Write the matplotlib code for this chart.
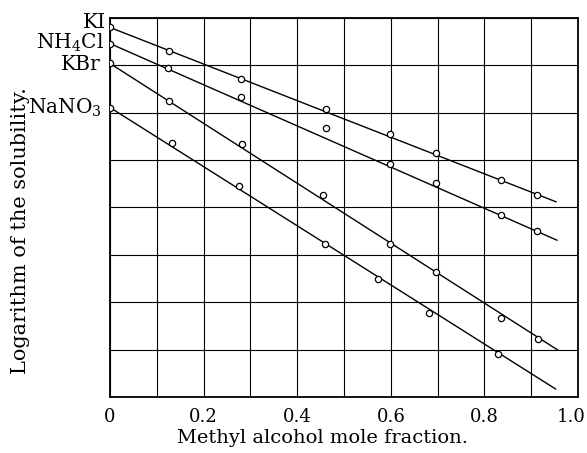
import numpy as np
import matplotlib
matplotlib.use("Agg")
import matplotlib.pyplot as plt
import matplotlib.transforms as mtransforms

plt.rcParams['font.family'] = ['DejaVu Serif']
plt.rcParams['mathtext.default'] = 'regular'

# measured points (x = methyl alcohol mole fraction, y = log solubility, arbitrary units)
salts = ['KI', 'NH$_4$Cl', 'KBr', 'NaNO$_3$']

ki_x = [0.0, 0.125, 0.280, 0.462, 0.598, 0.696, 0.835, 0.913]
ki_y = [7.80, 7.31, 6.72, 6.07, 5.55, 5.15, 4.57, 4.26]

nh4cl_x = [0.0, 0.123, 0.280, 0.462, 0.598, 0.696, 0.835, 0.912]
nh4cl_y = [7.46, 6.95, 6.34, 5.67, 4.92, 4.51, 3.85, 3.50]

kbr_x = [0.0, 0.125, 0.283, 0.455, 0.598, 0.696, 0.835, 0.915]
kbr_y = [7.04, 6.24, 5.33, 4.26, 3.24, 2.63, 1.66, 1.23]

nano3_x = [0.0, 0.133, 0.276, 0.459, 0.572, 0.682, 0.830]
nano3_y = [6.11, 5.37, 4.45, 3.23, 2.50, 1.78, 0.91]

# hand-drawn straight lines: start and end of each
line_x = [[0.0, 0.953], [0.0, 0.955], [0.0, 0.957], [0.0, 0.952]]
line_y = [[7.80, 4.12], [7.46, 3.31], [7.04, 0.99], [6.11, 0.17]]

# where the salt names sit (right edge, baseline)
label_x = [-0.008, -0.013, -0.021, -0.017]
label_y = [7.78, 7.36, 6.90, 5.99]

xtick_labels = ['0', '', '0.2', '', '0.4', '', '0.6', '', '0.8', '', '1.0']

fig = plt.figure(figsize=(5.87, 4.53), dpi=100)
ax = fig.add_axes([0.1874, 0.1236, 0.7973, 0.8367])

pts = [(ki_x, ki_y), (nh4cl_x, nh4cl_y), (kbr_x, kbr_y), (nano3_x, nano3_y)]
for (px, py), lx, ly, name, tx, ty in zip(pts, line_x, line_y, salts, label_x, label_y):
    ax.plot(lx, ly, color='black', lw=1.0, zorder=3)
    ax.plot(px, py, 'o', ms=4.5, mfc='white', mec='black', mew=0.9, zorder=4)
    ax.text(tx, ty, name, ha='right', va='baseline', fontsize=14.5, clip_on=False)

ax.set_xlim(0, 1.0)
ax.set_ylim(0, 8)
ax.set_xticks(np.arange(0, 1.01, 0.1))
ax.set_xticklabels(xtick_labels)
ax.set_yticks(np.arange(0, 9, 1))
ax.set_yticklabels([])
ax.tick_params(length=0, labelsize=13, pad=8)
ax.grid(True, color='black', lw=0.8)
for s in ax.spines.values():
    s.set_linewidth(1.3)

# the last tick label is pulled in a little so it fits on the page
last = ax.get_xticklabels()[-1]
last.set_transform(last.get_transform() +
                   mtransforms.ScaledTranslation(-7 / 100, 0, fig.dpi_scale_trans))

ax.set_xlabel('Methyl alcohol mole fraction.', fontsize=14)
ax.xaxis.set_label_coords(0.453, -0.084)
ax.set_ylabel('Logarithm of the solubility.', fontsize=15)
ax.yaxis.set_label_coords(-0.171, 0.438)

fig.savefig('out.png', dpi=100)
